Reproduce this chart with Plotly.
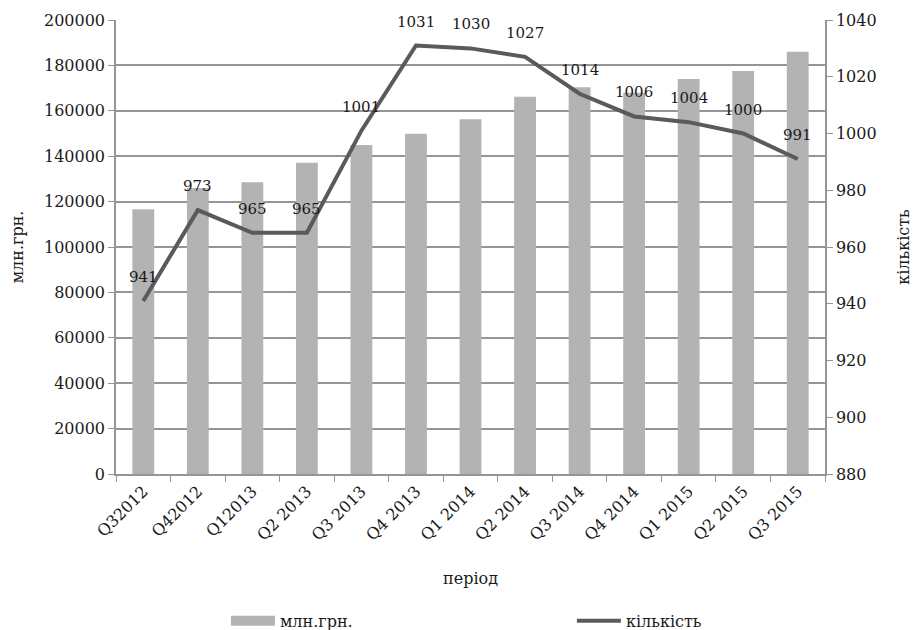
import plotly.graph_objects as go

periods = ["Q32012", "Q42012", "Q12013", "Q2 2013", "Q3 2013", "Q4 2013", "Q1 2014",
           "Q2 2014", "Q3 2014", "Q4 2014", "Q1 2015", "Q2 2015", "Q3 2015"]
mln_grn = [116600, 126000, 128500, 137100, 144900, 149900, 156300,
           166200, 170400, 168000, 174000, 177500, 186000]
kilkist = [941, 973, 965, 965, 1001, 1031, 1030, 1027, 1014, 1006, 1004, 1000, 991]

FONT = "DejaVu Serif"
TXT = "#1a1a1a"
GRID = "#959595"
BAR = "#b3b3b3"
LINE = "#5a5a5a"

fig = go.Figure()
fig.add_trace(go.Bar(
    x=periods, y=mln_grn, name="млн.грн.",
    marker=dict(color=BAR, line=dict(width=0)),
    width=0.4, showlegend=False,
))
fig.add_trace(go.Scatter(
    x=periods, y=kilkist, name="кількість", yaxis="y2",
    mode="lines",
    line=dict(color=LINE, width=4),
    showlegend=False,
))
fig.add_trace(go.Scatter(
    x=[periods[0]], y=[None], name="млн.грн.", mode="lines",
    line=dict(color=BAR, width=11), showlegend=True, legend="legend",
))
fig.add_trace(go.Scatter(
    x=[periods[0]], y=[None], name="кількість", yaxis="y2", mode="lines",
    line=dict(color=LINE, width=4), showlegend=True, legend="legend2",
))

for p, v in zip(periods, kilkist):
    fig.add_annotation(
        x=p, y=v, xref="x", yref="y2", text=str(v), showarrow=False,
        yshift=24, font=dict(family=FONT, size=15, color=TXT),
    )

leg_common = dict(orientation="h", xanchor="left", y=-0.286, yanchor="top",
                  font=dict(family=FONT, size=16, color=TXT), itemwidth=44,
                  bgcolor="rgba(0,0,0,0)")

fig.update_layout(
    width=914, height=630,
    margin=dict(l=116, r=89, t=20, b=156, autoexpand=False),
    paper_bgcolor="white", plot_bgcolor="white",
    font=dict(family=FONT, size=16, color=TXT),
    bargap=0.6,
    showlegend=True,
    legend=dict(x=0.155, **leg_common),
    legend2=dict(x=0.643, **leg_common),
    xaxis=dict(
        type="category", tickangle=-45, tickson="boundaries",
        ticks="outside", ticklen=6, tickcolor=GRID,
        showline=True, linecolor=GRID, linewidth=1.5,
        showgrid=False,
        tickfont=dict(family=FONT, size=16, color=TXT),
        title=dict(text="період", font=dict(family=FONT, size=16, color=TXT), standoff=29),
        automargin=False,
    ),
    yaxis=dict(
        range=[0, 200000], dtick=20000, tickformat="d",
        ticks="outside", ticklen=6, tickcolor=GRID,
        showline=True, linecolor=GRID, linewidth=1.5,
        showgrid=True, gridcolor=GRID, gridwidth=1.5,
        tickfont=dict(family=FONT, size=16, color=TXT),
        title=dict(text="млн.грн.", font=dict(family=FONT, size=16, color=TXT), standoff=16),
        automargin=False, zeroline=False,
    ),
    yaxis2=dict(
        overlaying="y", side="right",
        range=[880, 1040], dtick=20,
        ticks="outside", ticklen=6, tickcolor=GRID,
        showline=True, linecolor=GRID, linewidth=1.5,
        showgrid=False, zeroline=False,
        tickfont=dict(family=FONT, size=16, color=TXT),
        title=dict(text="кількість", font=dict(family=FONT, size=16, color=TXT), standoff=22),
        automargin=False,
    ),
)

fig.write_html("out.html")
